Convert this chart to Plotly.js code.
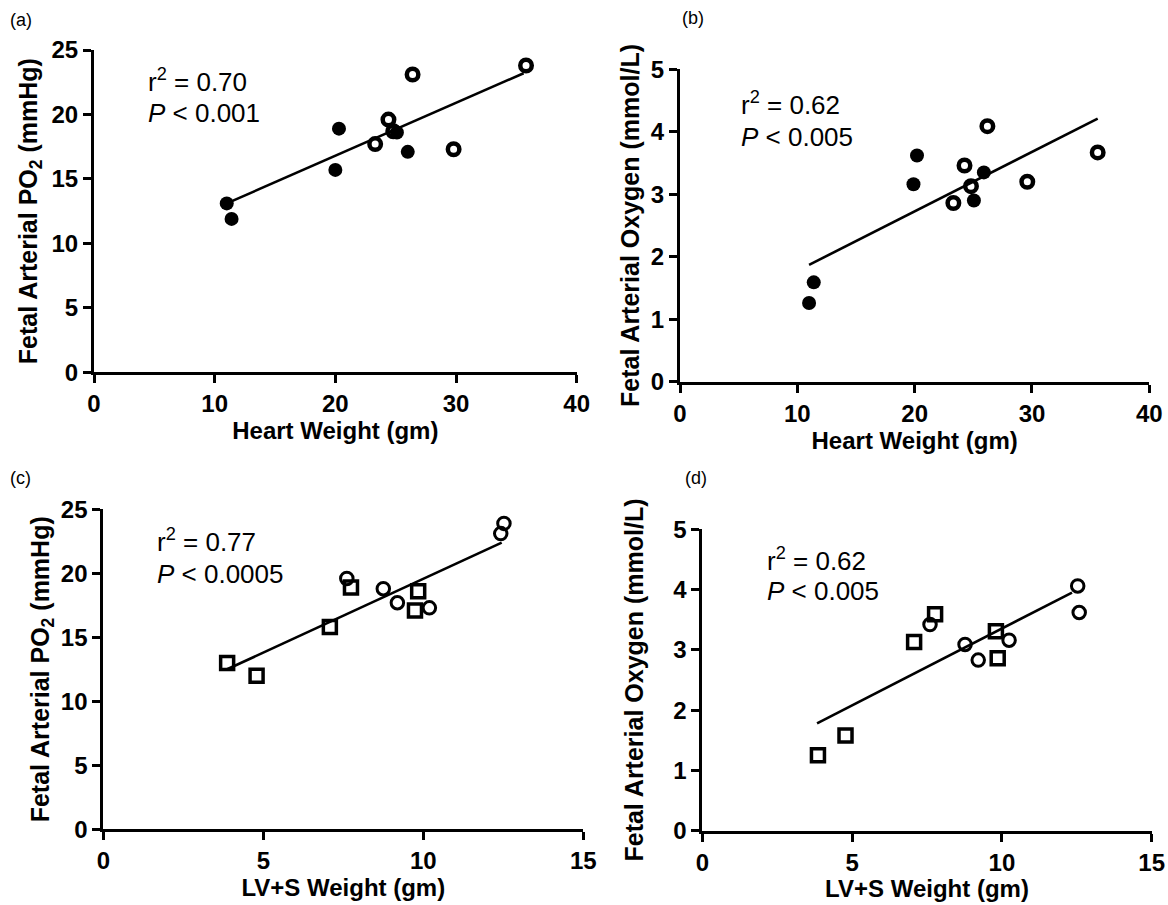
<!DOCTYPE html>
<html>
<head>
<meta charset="utf-8">
<script src="https://cdn.plot.ly/plotly-3.0.1.min.js"></script>
<style>html,body{margin:0;padding:0;background:#fff;}#chart{width:1168px;height:905px;}</style>
</head>
<body>
<div id="chart"></div>
<script>
// ---- Data ----
// Panel (a): Heart weight vs fetal arterial PO2
const heartFilledA = [11.0, 11.4, 20.0, 20.3, 25.1, 26.0];
const po2FilledA   = [13.1, 11.9, 15.7, 18.9, 18.6, 17.1];
const heartOpenA   = [23.3, 24.4, 24.8, 26.4, 29.8, 35.8];
const po2OpenA     = [17.7, 19.6, 18.7, 23.1, 17.3, 23.8];
const fitXA = [11.0, 35.6];
const fitYA = [13.1, 23.2];

// Panel (b): Heart weight vs fetal arterial oxygen
const heartFilledB = [11.0, 11.4, 19.9, 20.2, 25.05, 25.9];
const oxyFilledB   = [1.26, 1.59, 3.16, 3.62, 2.90, 3.35];
const heartOpenB   = [23.3, 24.25, 24.8, 26.2, 29.6, 35.6];
const oxyOpenB     = [2.86, 3.46, 3.13, 4.09, 3.20, 3.67];
const fitXB = [11.0, 35.6];
const fitYB = [1.87, 4.21];

// Panel (c): LV+S weight vs fetal arterial PO2
const lvsSquareC = [3.87, 4.79, 7.08, 7.74, 9.84, 9.74];
const po2SquareC = [13.0, 12.0, 15.8, 18.9, 18.6, 17.1];
const lvsCircleC = [7.61, 8.75, 9.19, 10.19, 12.42, 12.52];
const po2CircleC = [19.6, 18.8, 17.7, 17.3, 23.1, 23.9];
const fitXC = [3.87, 12.45];
const fitYC = [12.5, 22.4];

// Panel (d): LV+S weight vs fetal arterial oxygen
const lvsSquareD = [3.86, 4.78, 7.07, 7.77, 9.80, 9.86];
const oxySquareD = [1.25, 1.58, 3.13, 3.59, 3.31, 2.86];
const lvsCircleD = [7.60, 8.77, 9.21, 10.24, 12.53, 12.58];
const oxyCircleD = [3.42, 3.09, 2.83, 3.16, 4.06, 3.62];
const fitXD = [3.83, 12.34];
const fitYD = [1.78, 3.95];

// Tick values / labels
const heartTicks = [0, 10, 20, 30, 40];
const lvsTicks   = [0, 5, 10, 15];
const po2Ticks   = [0, 5, 10, 15, 20, 25];
const oxyTicks   = [0, 1, 2, 3, 4, 5];

// Text
const panelLabels = ['(a)', '(b)', '(c)', '(d)'];
const statsR2 = ['r<sup>2</sup> = 0.70', 'r<sup>2</sup> = 0.62', 'r<sup>2</sup> = 0.77', 'r<sup>2</sup> = 0.62'];
const statsP  = ['<i>P</i> &lt; 0.001', '<i>P</i> &lt; 0.005', '<i>P</i> &lt; 0.0005', '<i>P</i> &lt; 0.005'];
const xTitles = ['Heart Weight (gm)', 'Heart Weight (gm)', 'LV+S Weight (gm)', 'LV+S Weight (gm)'];
const yTitles = ['Fetal Arterial PO<sub>2</sub> (mmHg)', 'Fetal Arterial Oxygen (mmol/L)',
                 'Fetal Arterial PO<sub>2</sub> (mmHg)', 'Fetal Arterial Oxygen (mmol/L)'];

// ---- Layout helpers ----
const W = 1168, H = 905;
const FONT = 'Liberation Sans, Arial, Helvetica, sans-serif';
const px = v => v / W;
const py = v => 1 - v / H;

const filled = {symbol: 'circle', color: 'black', size: 14};
const openThick = {symbol: 'circle-open', color: 'black', size: 11.5, line: {width: 4.5, color: 'black'}};
const openThin = {symbol: 'circle-open', color: 'black', size: 12.5, line: {width: 3, color: 'black'}};
const squareOpen = {symbol: 'square-open', color: 'black', size: 13, line: {width: 3.5, color: 'black'}};
const fitLine = {color: 'black', width: 2.6};

function sc(x, y, xa, ya, marker) {
  return {x: x, y: y, xaxis: xa, yaxis: ya, type: 'scatter', mode: 'markers', marker: marker,
          showlegend: false, hoverinfo: 'x+y', cliponaxis: false};
}
function ln(x, y, xa, ya) {
  return {x: x, y: y, xaxis: xa, yaxis: ya, type: 'scatter', mode: 'lines', line: fitLine,
          showlegend: false, hoverinfo: 'skip', cliponaxis: false};
}

const data = [
  ln(fitXA, fitYA, 'x', 'y'),
  sc(heartFilledA, po2FilledA, 'x', 'y', filled),
  sc(heartOpenA, po2OpenA, 'x', 'y', openThick),
  ln(fitXB, fitYB, 'x2', 'y2'),
  sc(heartFilledB, oxyFilledB, 'x2', 'y2', filled),
  sc(heartOpenB, oxyOpenB, 'x2', 'y2', openThick),
  ln(fitXC, fitYC, 'x3', 'y3'),
  sc(lvsSquareC, po2SquareC, 'x3', 'y3', squareOpen),
  sc(lvsCircleC, po2CircleC, 'x3', 'y3', openThin),
  ln(fitXD, fitYD, 'x4', 'y4'),
  sc(lvsSquareD, oxySquareD, 'x4', 'y4', squareOpen),
  sc(lvsCircleD, oxyCircleD, 'x4', 'y4', openThin)
];

function axis(domain, ticks, title, anchor, standoff, titleSize) {
  return {
    domain: domain, range: [ticks[0], ticks[ticks.length - 1]], anchor: anchor,
    tickmode: 'array', tickvals: ticks, ticktext: ticks.map(t => '<b>' + t + '</b>'),
    showline: true, linewidth: 3, linecolor: 'black',
    ticks: 'outside', ticklen: 8, tickwidth: 3, tickcolor: 'black',
    showgrid: false, zeroline: false, fixedrange: true,
    tickfont: {family: FONT, size: 24, color: 'black', weight: 'bold'},
    title: {text: '<b>' + title + '</b>', font: {family: FONT, size: titleSize, color: 'black', weight: 'bold'}, standoff: standoff}
  };
}

// Plot area pixel boxes
const boxes = [
  {l: 94,    r: 576.7,  b: 372.3, t: 50},
  {l: 680,   r: 1149.3, b: 381.7, t: 69.3},
  {l: 103.3, r: 583.3,  b: 829.3, t: 509.3},
  {l: 702.3, r: 1151.7, b: 830.7, t: 529.3}
];
const xt = [heartTicks, heartTicks, lvsTicks, lvsTicks];
const yt = [po2Ticks, oxyTicks, po2Ticks, oxyTicks];
const xStand = [7, 7, 6, 6];
const yStand = [7, 5, 5, 23];

const layout = {
  width: W, height: H,
  margin: {l: 0, r: 0, t: 0, b: 0, pad: 0},
  paper_bgcolor: 'white', plot_bgcolor: 'white',
  font: {family: FONT, color: 'black', size: 20},
  showlegend: false,
  annotations: []
};
const names = [['xaxis', 'yaxis'], ['xaxis2', 'yaxis2'], ['xaxis3', 'yaxis3'], ['xaxis4', 'yaxis4']];
const anchors = [['y', 'x'], ['y2', 'x2'], ['y3', 'x3'], ['y4', 'x4']];
for (let i = 0; i < 4; i++) {
  const b = boxes[i];
  layout[names[i][0]] = axis([px(b.l), px(b.r)], xt[i], xTitles[i], anchors[i][0], xStand[i], 24);
  layout[names[i][1]] = axis([py(b.b), py(b.t)], yt[i], yTitles[i], anchors[i][1], yStand[i], 25);
}

// Panel labels
const labelPos = [[8, 20], [680, 18], [8, 478], [683, 478]];
// stats annotation positions (left x, centre y of each line)
const statPos = [[146, 80, 113], [739, 103, 137], [155, 540, 574], [765, 559, 591]];
for (let i = 0; i < 4; i++) {
  layout.annotations.push({
    xref: 'paper', yref: 'paper', x: px(labelPos[i][0]), y: py(labelPos[i][1]),
    xanchor: 'left', yanchor: 'middle', showarrow: false, text: panelLabels[i],
    font: {family: FONT, size: 18, color: 'black'}
  });
  layout.annotations.push({
    xref: 'paper', yref: 'paper', x: px(statPos[i][0]), y: py(statPos[i][1]),
    xanchor: 'left', yanchor: 'middle', showarrow: false, text: statsR2[i],
    font: {family: FONT, size: 26, color: 'black'}
  });
  layout.annotations.push({
    xref: 'paper', yref: 'paper', x: px(statPos[i][0]), y: py(statPos[i][2]),
    xanchor: 'left', yanchor: 'middle', showarrow: false, text: statsP[i],
    font: {family: FONT, size: 26, color: 'black'}
  });
}

Plotly.newPlot('chart', data, layout, {displayModeBar: false, staticPlot: true});
</script>
</body>
</html>
